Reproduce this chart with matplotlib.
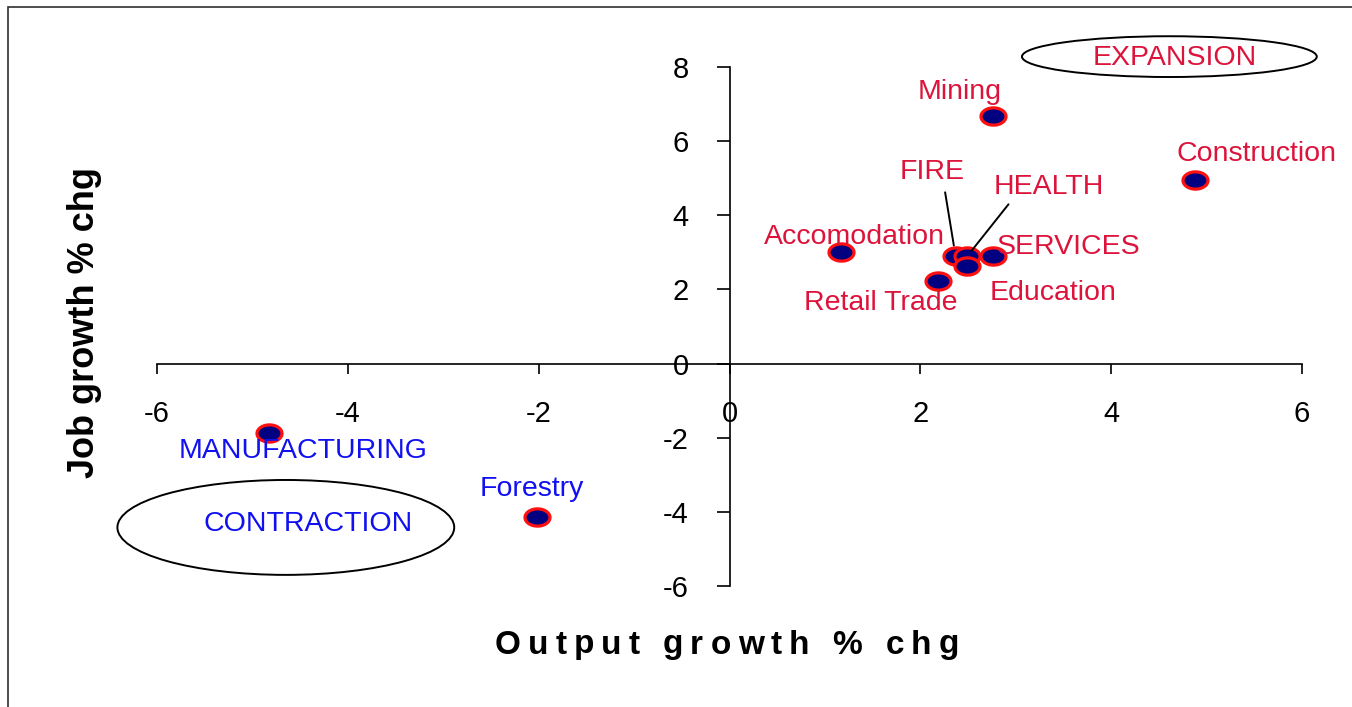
import matplotlib
matplotlib.use('Agg')

import matplotlib.pyplot as plt
import numpy as np
from matplotlib.patches import Ellipse, Rectangle
from matplotlib.path import Path

plt.rcParams['font.family'] = ['Liberation Sans', 'DejaVu Sans']

# sector data: output growth (x) vs job growth (y)
sectors = ['Mining', 'Construction', 'Accomodation', 'FIRE', 'HEALTH',
           'SERVICES', 'Education', 'Retail Trade', 'MANUFACTURING', 'Forestry']
output_growth = [2.76, 4.88, 1.17, 2.37, 2.49, 2.76, 2.49, 2.18, -4.83, -2.02]
job_growth = [6.69, 4.94, 3.02, 2.89, 2.89, 2.89, 2.62, 2.24, -1.86, -4.13]
label_colors = ['#DC143C'] * 8 + ['#1010F0'] * 2

x_ticks = [-6, -4, -2, 0, 2, 4, 6]
y_ticks = [-6, -4, -2, 0, 2, 4, 6, 8]

# label offsets in pixels (dx, dy) from each point
offsets = [(-33, 24), (61, 26), (13, 15), (-24, 84), (82, 69),
           (76, 9), (86, -27), (-57, -22), (34, -18), (-5, 28)]

W, H = 1352, 707
fig = plt.figure(figsize=(W / 100, H / 100), dpi=100)
ax = fig.add_axes([157 / W, 1 - 586 / H, 1145 / W, 519 / H])

# thin frame around the chart area
fig.patches.append(Rectangle((8 / W, -0.5), 2, 1.5 - 7 / H, transform=fig.transFigure,
                             fill=False, edgecolor='#303030', linewidth=1.2))

ax.set_xlim(-6, 6)
ax.set_ylim(-6, 8)
for s in ['top', 'right']:
    ax.spines[s].set_visible(False)
ax.spines['left'].set_position(('data', 0))
ax.spines['bottom'].set_position(('data', 0))
ax.spines['left'].set_linewidth(1.2)
ax.spines['bottom'].set_linewidth(1.2)
ax.set_xticks(x_ticks)
ax.set_yticks(y_ticks)
ax.set_xticklabels([str(t) for t in x_ticks])
ax.set_yticklabels([str(t) for t in y_ticks])
ax.tick_params(axis='x', direction='out', length=7, width=1.2, pad=19, labelsize=21)
ax.tick_params(axis='y', direction='out', length=9.5, width=1.2, pad=20, labelsize=21)
ax.patch.set_alpha(0)

# oval markers
theta = np.linspace(0, 2 * np.pi, 60)
oval = Path(np.column_stack([1.45 * np.cos(theta), np.sin(theta)]), closed=True)
ax.plot(output_growth, job_growth, linestyle='none', marker=oval, markersize=18,
        markerfacecolor='#000080', markeredgecolor='#FF1010', markeredgewidth=2.3,
        clip_on=False, zorder=5)

for name, x, y, (dx, dy), c in zip(sectors, output_growth, job_growth, offsets, label_colors):
    arrow = None
    if name == 'FIRE':
        arrow = dict(arrowstyle='-', color='black', lw=1.4, relpos=(0.69, 0.0),
                     shrinkA=3, shrinkB=8)
    elif name == 'HEALTH':
        arrow = dict(arrowstyle='-', color='black', lw=1.4, relpos=(0.16, 0.0),
                     shrinkA=1, shrinkB=5)
    ax.annotate(name, xy=(x, y), xytext=(dx, dy), textcoords='offset pixels',
                ha='center', va='center', fontsize=20.5, color=c,
                arrowprops=arrow, annotation_clip=False, zorder=6)

# quadrant ovals
ax.add_patch(Ellipse((4.61, 8.28), 3.09, 1.1, fill=False, edgecolor='black',
                     linewidth=1.4, clip_on=False))
ax.text(4.67, 8.25, 'EXPANSION', ha='center', va='center', fontsize=20.5,
        color='#DC143C')
ax.add_patch(Ellipse((-4.65, -4.42), 3.53, 2.56, fill=False, edgecolor='black',
                     linewidth=1.4, clip_on=False))
ax.text(-4.42, -4.34, 'CONTRACTION', ha='center', va='center', fontsize=20.5,
        color='#1010F0')


def spaced_text(s, xc, yc, gap, **kw):
    # draw a string with extra letter spacing (pixels), centred at (xc, yc) in pixels
    r = fig.canvas.get_renderer()

    def width(t):
        probe = fig.text(0, 0, t + '|', **kw)
        bar = fig.text(0, 0, '|', **kw)
        w = probe.get_window_extent(r).width - bar.get_window_extent(r).width
        probe.remove()
        bar.remove()
        return w

    total = width(s) + gap * (len(s) - 1)
    x0 = xc - total / 2
    for i, ch in enumerate(s):
        if ch == ' ':
            continue
        xi = x0 + width(s[:i]) + gap * i
        fig.text(xi / W, 1 - yc / H, ch, ha='left', va='center', **kw)


spaced_text('Output growth % chg', 727, 645, 7, fontsize=24, fontweight='bold')
fig.text(85 / W, 1 - 323 / H, 'Job growth % chg', ha='center', va='center',
         rotation=90, fontsize=26, fontweight='bold')

fig.savefig('out.png', dpi=100)
